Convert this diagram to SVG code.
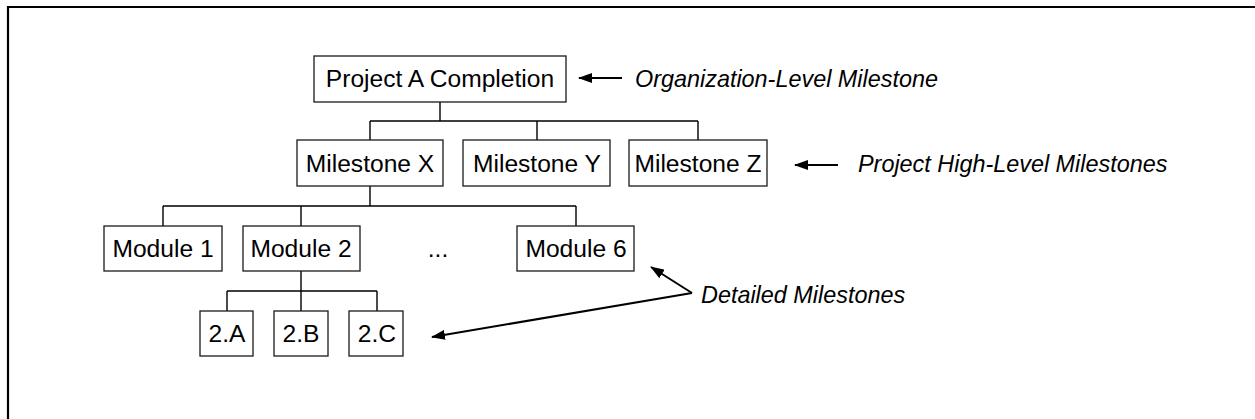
<svg xmlns="http://www.w3.org/2000/svg" width="1255" height="419" viewBox="0 0 1255 419">
  <style>
    .box { fill: #fff; stroke: #1a1a1a; stroke-width: 1.3; }
    .lbl { font-family: "Liberation Sans", Arial, sans-serif; font-size: 24.6px; fill: #000; text-anchor: middle; }
    .note { font-family: "Liberation Sans", Arial, sans-serif; font-size: 23.4px; font-style: italic; fill: #000; }
    .tree { fill: none; stroke: #000; stroke-width: 1.4; }
    .ptr { fill: none; stroke: #000; stroke-width: 2; marker-end: url(#head); }
  </style>
  <defs>
    <marker id="head" viewBox="0 0 14 10" refX="13" refY="5" markerWidth="14" markerHeight="10" markerUnits="userSpaceOnUse" orient="auto">
      <path d="M0,0 L14,5 L0,10 Z" fill="#000"/>
    </marker>
  </defs>
  <rect width="1255" height="419" fill="#fff"/>

  <!-- frame: only the top and left edges fall inside the canvas -->
  <path d="M8,425 V7 H1262" fill="none" stroke="#000" stroke-width="2.2"/>

  <!-- tree connectors and annotation pointers -->
  <g id="connectors">
    <path class="tree" d="M440,102 V121 M370,121 H698 M370,121 V140 M537,121 V140 M698,121 V140"/>
    <path class="tree" d="M370,186 V206 M163,206 H576 M163,206 V226 M301,206 V226 M576,206 V226"/>
    <path class="tree" d="M301,271 V291 M227,291 H377 M227,291 V311 M301,291 V311 M377,291 V311"/>
    <line class="ptr" x1="622" y1="78" x2="579" y2="78"/>
    <line class="ptr" x1="838" y1="165" x2="795" y2="165"/>
    <line class="ptr" x1="692" y1="293" x2="651" y2="267"/>
    <line class="ptr" x1="692" y1="293" x2="432" y2="337"/>
  </g>

  <g id="project-a">
    <rect class="box" x="314" y="56" width="252" height="46"/>
    <text class="lbl" x="440" y="87">Project A Completion</text>
  </g>

  <g id="milestone-x">
    <rect class="box" x="297" y="140" width="146" height="46"/>
    <text class="lbl" x="370" y="172">Milestone X</text>
  </g>
  <g id="milestone-y">
    <rect class="box" x="463" y="140" width="147" height="46"/>
    <text class="lbl" x="537" y="172">Milestone Y</text>
  </g>
  <g id="milestone-z">
    <rect class="box" x="629" y="140" width="138" height="46"/>
    <text class="lbl" x="698" y="172">Milestone Z</text>
  </g>

  <g id="module-1">
    <rect class="box" x="104" y="226" width="118" height="45"/>
    <text class="lbl" x="163" y="257">Module 1</text>
  </g>
  <g id="module-2">
    <rect class="box" x="243" y="226" width="117" height="45"/>
    <text class="lbl" x="301" y="257">Module 2</text>
  </g>
  <g id="ellipsis">
    <text class="lbl" x="438" y="257">...</text>
  </g>
  <g id="module-6">
    <rect class="box" x="517" y="226" width="117" height="45"/>
    <text class="lbl" x="576" y="257">Module 6</text>
  </g>

  <g id="task-2a">
    <rect class="box" x="200" y="311" width="53" height="45"/>
    <text class="lbl" x="227" y="342">2.A</text>
  </g>
  <g id="task-2b">
    <rect class="box" x="274" y="311" width="54" height="45"/>
    <text class="lbl" x="301" y="342">2.B</text>
  </g>
  <g id="task-2c">
    <rect class="box" x="349" y="311" width="54" height="45"/>
    <text class="lbl" x="377" y="342">2.C</text>
  </g>

  <!-- level annotations -->
  <g id="note-org">
    <text class="note" x="635" y="87">Organization-Level Milestone</text>
  </g>
  <g id="note-project">
    <text class="note" x="858" y="172">Project High-Level Milestones</text>
  </g>
  <g id="note-detailed">
    <text class="note" x="701" y="303">Detailed Milestones</text>
  </g>
</svg>
